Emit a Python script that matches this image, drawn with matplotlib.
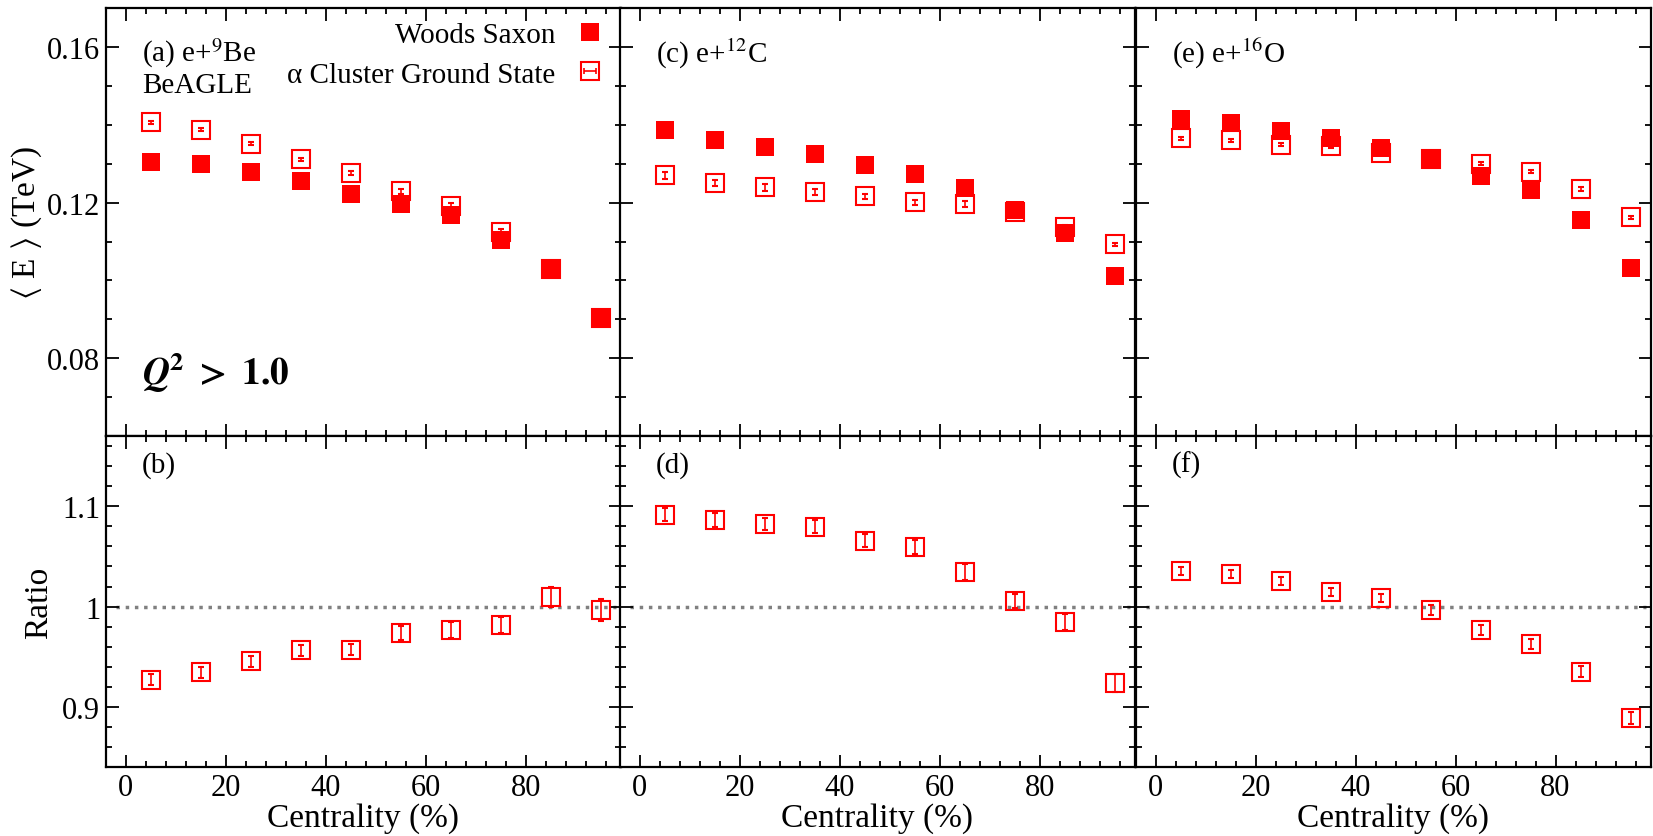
import matplotlib
matplotlib.use("Agg")
import matplotlib.pyplot as plt
from matplotlib.ticker import MultipleLocator, FuncFormatter
from matplotlib.lines import Line2D
from matplotlib.path import Path
from matplotlib.legend_handler import HandlerTuple

plt.rcParams['font.family'] = ['Liberation Serif', 'DejaVu Serif']
plt.rcParams['mathtext.fontset'] = 'stix'

# centrality bin centres (%)
cent = [5, 15, 25, 35, 45, 55, 65, 75, 85, 95]

# <E> (TeV), Woods Saxon
ws_be = [0.1304, 0.1299, 0.1278, 0.1255, 0.1221, 0.1196, 0.1167, 0.1103, 0.1032, 0.0900]
ws_c = [0.1386, 0.1361, 0.1342, 0.1324, 0.1296, 0.1273, 0.1237, 0.1181, 0.1121, 0.1010]
ws_o = [0.1415, 0.1404, 0.1384, 0.1366, 0.1340, 0.1312, 0.1268, 0.1233, 0.1155, 0.1033]

# <E> (TeV), alpha cluster ground state
ac_be = [0.1407, 0.1388, 0.1351, 0.1312, 0.1277, 0.1229, 0.1191, 0.1125, 0.1029, 0.0902]
ac_c = [0.1270, 0.1251, 0.1239, 0.1227, 0.1216, 0.1201, 0.1197, 0.1177, 0.1137, 0.1093]
ac_o = [0.1366, 0.1360, 0.1349, 0.1345, 0.1328, 0.1312, 0.1300, 0.1279, 0.1235, 0.1162]
ac_be_err = [0.0004, 0.0004, 0.0004, 0.0004, 0.0005, 0.0006, 0.0008, 0.0007, 0.0008, 0.0010]
ac_c_err = [0.0008, 0.0008, 0.0008, 0.0007, 0.0007, 0.0007, 0.0007, 0.0007, 0.0006, 0.0004]
ac_o_err = [0.0004, 0.0004, 0.0004, 0.0004, 0.0004, 0.0004, 0.0004, 0.0004, 0.0004, 0.0004]

# ratio WS / alpha cluster
r_be = [0.9272, 0.9349, 0.9458, 0.9565, 0.9571, 0.9738, 0.9771, 0.9821, 1.0096, 0.9970]
r_c = [1.0914, 1.0860, 1.0827, 1.0794, 1.0658, 1.0595, 1.0346, 1.0060, 0.9847, 0.9239]
r_o = [1.0352, 1.0322, 1.0259, 1.0143, 1.0090, 0.9970, 0.9764, 0.9624, 0.9352, 0.8890]
r_be_err = [0.0055, 0.0055, 0.0055, 0.0055, 0.0055, 0.0070, 0.0080, 0.0080, 0.0096, 0.0110]
r_c_err = [0.0066, 0.0070, 0.0060, 0.0065, 0.0066, 0.0066, 0.0080, 0.0070, 0.0076, 0.0090]
r_o_err = [0.0040, 0.0040, 0.0040, 0.0040, 0.0040, 0.0050, 0.0050, 0.0050, 0.0055, 0.0060]

top_labels = ["(a) e+$^{9}$Be", "(c) e+$^{12}$C", "(e) e+$^{16}$O"]
bot_labels = ["(b)", "(d)", "(f)"]

ws_all = [ws_be, ws_c, ws_o]
ac_all = [ac_be, ac_c, ac_o]
ac_err_all = [ac_be_err, ac_c_err, ac_o_err]
r_all = [r_be, r_c, r_o]
r_err_all = [r_be_err, r_c_err, r_o_err]

RED = '#ff0000'

fig = plt.figure(figsize=(16.53, 8.37), dpi=100)

lefts = [0.064, 0.375, 0.687]
width = 0.3115
y_bot, y_mid, y_top = 0.082, 0.478, 0.989


def style_axis(ax, ymajor, yminor):
    ax.set_xlim(-4, 99)
    ax.xaxis.set_major_locator(MultipleLocator(20))
    ax.xaxis.set_minor_locator(MultipleLocator(4))
    ax.yaxis.set_major_locator(MultipleLocator(ymajor))
    ax.yaxis.set_minor_locator(MultipleLocator(yminor))
    ax.tick_params(which='both', direction='in', top=True, right=True,
                   width=1.3, labelsize=22, pad=4)
    ax.tick_params(which='major', length=9)
    ax.tick_params(which='minor', length=4.5)
    for s in ax.spines.values():
        s.set_linewidth(1.6)


# legend handle for the open marker: box with a horizontal error bar inside
bar_path = Path([(-1, 0), (1, 0), (-1, -0.45), (-1, 0.45), (1, -0.45), (1, 0.45)],
                [Path.MOVETO, Path.LINETO, Path.MOVETO, Path.LINETO,
                 Path.MOVETO, Path.LINETO])
h_box = Line2D([], [], ls='none', marker='s', ms=12.5, mfc='none', mec=RED, mew=1.5)
h_bar = Line2D([], [], ls='none', marker=bar_path, ms=9, mfc='none', mec=RED, mew=1.2)
h_ws = Line2D([], [], ls='none', marker='s', ms=13.5, color=RED, mew=0)

for i in range(3):
    ax = fig.add_axes([lefts[i], y_mid, width, y_top - y_mid])
    axr = fig.add_axes([lefts[i], y_bot, width, y_mid - y_bot])

    # upper panel
    style_axis(ax, 0.04, 0.01)
    ax.set_ylim(0.06, 0.17)
    ax.tick_params(labelbottom=False)
    ax.errorbar(cent, ac_all[i], yerr=ac_err_all[i], fmt='s', ms=12.5,
                mfc='none', mec=RED, mew=1.5, ecolor=RED, elinewidth=1.2,
                capsize=2, zorder=3)
    ax.plot(cent, ws_all[i], 's', ms=13.5, color=RED, mew=0, zorder=4)
    ax.text(0.07, 0.936, top_labels[i], transform=ax.transAxes,
            fontsize=21, va='top', ha='left')

    # ratio panel
    style_axis(axr, 0.1, 0.02)
    axr.set_ylim(0.84, 1.17)
    axr.hlines(1.0, -2, 98, colors='#808080', linestyles=':', lw=2.5, zorder=1)
    axr.errorbar(cent, r_all[i], yerr=r_err_all[i], fmt='s', ms=12.5,
                 mfc='none', mec=RED, mew=1.5, ecolor=RED, elinewidth=1.2,
                 capsize=2, zorder=3)
    axr.text(0.07, 0.955, bot_labels[i], transform=axr.transAxes,
             fontsize=21, va='top', ha='left')
    axr.set_xlabel('Centrality (%)', fontsize=24, labelpad=0)
    axr.xaxis.set_major_formatter(FuncFormatter(lambda v, p: '%g' % v))

    if i == 0:
        ax.set_ylabel(r'$\langle$ E $\rangle$ (TeV)', fontsize=24)
        ax.yaxis.set_label_coords(-0.12, 0.5)
        ax.yaxis.set_major_formatter(FuncFormatter(lambda v, p: '%.2f' % v))
        axr.set_ylabel('Ratio', fontsize=24)
        axr.yaxis.set_label_coords(-0.10, 0.5)
        axr.yaxis.set_major_formatter(FuncFormatter(lambda v, p: '%g' % round(v, 3)))
        ax.text(0.07, 0.85, 'BeAGLE', transform=ax.transAxes,
                fontsize=21, va='top', ha='left')
        ax.text(0.07, 0.15, r'$\mathbfit{Q}^{\mathbf{2}}\ \mathbf{>\ 1.0}$',
                transform=ax.transAxes, fontsize=27, va='center', ha='left')
        ax.legend([h_ws, (h_box, h_bar)], ['Woods Saxon', 'α Cluster Ground State'],
                  handler_map={tuple: HandlerTuple(ndivide=1)},
                  loc='upper right', bbox_to_anchor=(1.0, 1.0), frameon=False,
                  markerfirst=False, fontsize=21, handlelength=1.2,
                  handletextpad=0.6, labelspacing=0.46, borderaxespad=0,
                  borderpad=0.45)
    else:
        ax.tick_params(labelleft=False)
        axr.tick_params(labelleft=False)

fig.savefig('out.png', dpi=100)
